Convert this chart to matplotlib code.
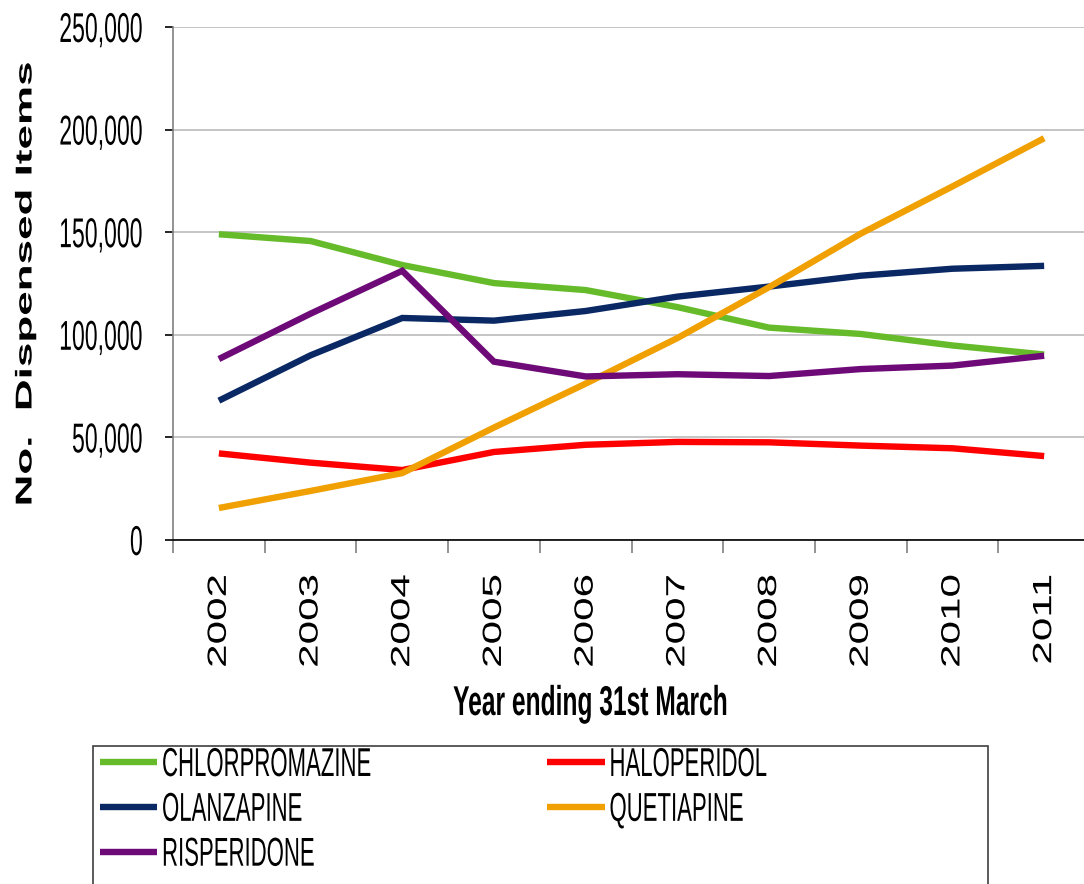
import matplotlib
matplotlib.use("Agg")
import matplotlib.pyplot as plt
from matplotlib.patches import Rectangle
from matplotlib.patheffects import AbstractPathEffect
from matplotlib.transforms import Affine2D
from matplotlib.textpath import TextToPath
from matplotlib.ticker import FuncFormatter, FixedLocator
import numpy as np

years = ["2002", "2003", "2004", "2005", "2006", "2007", "2008", "2009", "2010", "2011"]
chlorpromazine = [149000, 145700, 134000, 125200, 121800, 113500, 103500, 100400, 94800, 90400]
haloperidol = [42200, 37700, 34100, 42900, 46400, 47800, 47600, 46000, 44700, 40900]
olanzapine = [67900, 90000, 108200, 106900, 111600, 118600, 123500, 128800, 132200, 133600]
quetiapine = [15600, 23900, 32600, 54800, 76200, 98400, 123200, 149300, 172300, 195800]
risperidone = [88200, 110300, 131200, 86900, 79700, 80800, 79900, 83300, 85000, 89800]

series = [
    ("CHLORPROMAZINE", chlorpromazine, "#66BB2A"),
    ("OLANZAPINE", olanzapine, "#0A2864"),
    ("RISPERIDONE", risperidone, "#6E0A78"),
    ("HALOPERIDOL", haloperidol, "#FF0000"),
    ("QUETIAPINE", quetiapine, "#F0A000"),
]
draw_order = ["CHLORPROMAZINE", "HALOPERIDOL", "OLANZAPINE", "QUETIAPINE", "RISPERIDONE"]

EM = TextToPath.FONT_SCALE


class Stretch(AbstractPathEffect):
    """Scale glyphs along the text baseline (sx) and across it (sy)."""

    def __init__(self, sx=1.0, sy=1.0, anchor="left", ay=0.0):
        super().__init__()
        self.sx, self.sy, self.anchor, self.ay = sx, sy, anchor, ay

    def draw_path(self, renderer, gc, tpath, affine, rgbFace=None):
        ext = tpath.get_extents()
        if self.anchor == "left":
            a = 0.0
        elif self.anchor == "right":
            a = ext.x1
        else:
            a = 0.5 * (ext.x0 + ext.x1)
        b = self.ay * EM
        pre = Affine2D().translate(-a, -b).scale(self.sx, self.sy).translate(a, b)
        renderer.draw_path(gc, tpath, pre + affine, rgbFace)


FONT = ["Liberation Sans", "DejaVu Sans"]

W, H = 1084, 884
fig = plt.figure(figsize=(W / 100, H / 100), dpi=100)
ax = fig.add_axes([173 / W, 1 - 540 / H, 917 / W, 513 / H])

x = np.arange(len(years)) + 0.5
handles = {}
for name in draw_order:
    for n, vals, col in series:
        if n == name:
            (ln,) = ax.plot(x, vals, color=col, lw=4.6, solid_capstyle="butt",
                            solid_joinstyle="miter", label=n, zorder=3)
            handles[n] = ln

ax.set_xlim(0, len(years))
ax.set_ylim(0, 250000)
ax.set_yticks(np.arange(0, 250001, 50000))
ax.yaxis.set_major_formatter(FuncFormatter(lambda v, p: f"{int(v):,}"))
ax.grid(axis="y", color="#C0C0C0", lw=1.3, zorder=0)
ax.set_axisbelow(True)

ax.xaxis.set_major_locator(FixedLocator(np.arange(0, len(years) + 1)))
ax.set_xticklabels([], minor=False)
ax.set_xticks(x, minor=True)
ax.set_xticklabels(years, minor=True, rotation=90, fontfamily=FONT, fontsize=19)
ax.tick_params(axis="x", which="major", length=9.5, width=1.2, color="#808080")
ax.tick_params(axis="x", which="minor", length=0, pad=25)
ax.tick_params(axis="y", length=5.8, width=1.2, color="#000000", pad=15.8)
for lbl in ax.get_xticklabels(minor=True):
    lbl.set_path_effects([Stretch(1.6, 1.0, "right")])
for lbl in ax.get_yticklabels():
    lbl.set_fontfamily(FONT)
    lbl.set_fontsize(20)
    lbl.set_path_effects([Stretch(0.83, 1.5, "right", ay=0.358)])

for s in ["top", "right"]:
    ax.spines[s].set_visible(False)
ax.spines["left"].set_color("#808080")
ax.spines["left"].set_linewidth(1.2)
ax.spines["bottom"].set_color("#000000")
ax.spines["bottom"].set_linewidth(1.2)

yl = fig.text(25 / W, 1 - 284 / H, "No.  Dispensed Items", rotation=90,
              ha="center", va="center", fontfamily=FONT,
              fontweight="bold", fontsize=16.5)
yl.set_path_effects([Stretch(1.92, 1.0, "center")])
xl = fig.text(591 / W, 1 - 715 / H, "Year ending 31st March", ha="center",
              va="baseline", fontfamily=FONT, fontweight="bold", fontsize=30)
xl.set_path_effects([Stretch(0.59, 1.0, "center")])

# legend box
fig.patches.append(Rectangle((93 / W, -0.05), (988 - 93) / W, (1 - 746 / H) + 0.05,
                             transform=fig.transFigure, fill=False,
                             edgecolor="#404040", lw=1.2))
order = ["CHLORPROMAZINE", "OLANZAPINE", "RISPERIDONE", "HALOPERIDOL", "QUETIAPINE"]
leg = fig.legend([handles[n] for n in order], order, loc="upper left",
                 bbox_to_anchor=(100 / W, 1 - 746 / H), ncol=2, frameon=False,
                 handlelength=1.42, handletextpad=0.12, columnspacing=0.15,
                 labelspacing=0.17, borderaxespad=0, borderpad=0,
                 prop={"family": FONT, "size": 29})
for t in leg.get_texts():
    t.set_path_effects([Stretch(0.55, 1.0, "left")])

fig.savefig("out.png", dpi=100)
